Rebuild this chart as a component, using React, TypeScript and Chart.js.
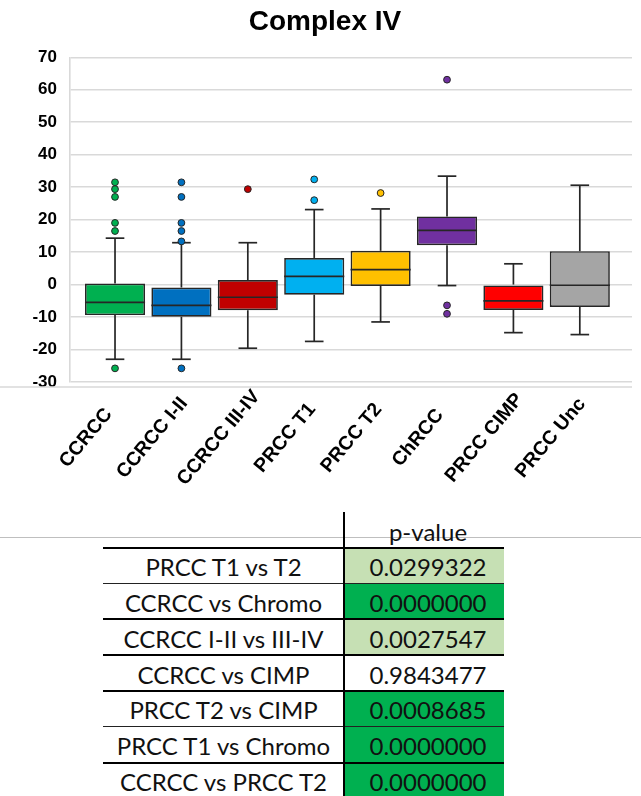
import React, { useEffect, useRef } from "react";
import { Chart, registerables } from "chart.js";

Chart.register(...registerables);

// ---------- data ----------
const TITLE = "Complex IV";
const CATEGORIES = ["CCRCC", "CCRCC I-II", "CCRCC III-IV", "PRCC T1", "PRCC T2", "ChRCC", "PRCC CIMP", "PRCC Unc"];
const COLORS = ["#00b050", "#0070c0", "#c00000", "#00b0f0", "#ffc000", "#7030a0", "#ff0000", "#a5a5a5"];
const Q1 = [-9.4, -9.9, -7.9, -3.1, -0.4, 12.1, -7.8, -6.9];
const Q3 = [0.3, -0.9, 1.4, 8.2, 10.4, 21.0, 0.0, 10.3];
const MEDIAN = [-5.5, -6.4, -3.9, 2.5, 4.6, 16.7, -5.0, -0.2];
const WHISKER_LOW = [-23.0, -23.0, -19.6, -17.5, -11.5, -0.3, -14.8, -15.4];
const WHISKER_HIGH = [14.3, 12.9, 12.9, 23.1, 23.3, 33.4, 6.4, 30.6];
const OUTLIERS: number[][] = [
  [31.5, 29.4, 27.0, 19.0, 16.5, -25.8],
  [31.5, 27.0, 19.0, 16.5, 13.3, -25.8],
  [29.4],
  [32.4, 26.0],
  [28.2],
  [63.1, -6.4, -9.0],
  [],
  [],
];
const Y_MIN = -30;
const Y_MAX = 70;
const Y_STEP = 10;

const COMPARISONS = [
  "PRCC T1 vs T2",
  "CCRCC vs Chromo",
  "CCRCC I-II vs III-IV",
  "CCRCC vs CIMP",
  "PRCC T2 vs CIMP",
  "PRCC T1 vs Chromo",
  "CCRCC vs PRCC T2",
];
const P_VALUES = ["0.0299322", "0.0000000", "0.0027547", "0.9843477", "0.0008685", "0.0000000", "0.0000000"];
const P_HEADER = "p-value";

// ---------- styles ----------
const FONT = '"Liberation Sans", Arial, Helvetica, sans-serif';
const TABLE_FONT = 'Lato, "Open Sans", sans-serif';
const LINE_DARK = "#262626";
const GRID = "#d9d9d9";
const LABEL_ANGLE = 50; // degrees
const LABEL_FONT_SIZE = 19.5;

const boxPlugin = {
  id: "boxWhiskers",
  afterDatasetDraw(chart: any, args: any) {
    if (args.index !== 0) return;
    const { ctx } = chart;
    const x = chart.scales.x;
    const y = chart.scales.y;
    const meta = chart.getDatasetMeta(0);
    ctx.save();
    ctx.strokeStyle = LINE_DARK;
    ctx.lineWidth = 1.7;
    const seg = (x1: number, y1: number, x2: number, y2: number) => {
      ctx.beginPath();
      ctx.moveTo(x1, y1);
      ctx.lineTo(x2, y2);
      ctx.stroke();
    };
    CATEGORIES.forEach((_, i) => {
      const bar = meta.data[i];
      const props = bar.getProps(["x", "width"], true);
      const cx = x.getPixelForValue(i);
      const half = props.width / 2;
      const capHalf = half * 0.31;
      const yq1 = y.getPixelForValue(Q1[i]);
      const yq3 = y.getPixelForValue(Q3[i]);
      const ylo = y.getPixelForValue(WHISKER_LOW[i]);
      const yhi = y.getPixelForValue(WHISKER_HIGH[i]);
      const ymed = y.getPixelForValue(MEDIAN[i]);
      seg(cx, yq3, cx, yhi);
      seg(cx - capHalf, yhi, cx + capHalf, yhi);
      seg(cx, yq1, cx, ylo);
      seg(cx - capHalf, ylo, cx + capHalf, ylo);
      seg(cx - half, ymed, cx + half, ymed);
    });
    ctx.restore();
  },
  afterDraw(chart: any) {
    const { ctx, chartArea } = chart;
    const x = chart.scales.x;
    const yb = chartArea.bottom + 5;
    ctx.save();
    ctx.fillStyle = "#ffffff";
    ctx.fillRect(0, yb, chartArea.left - 2, 5);
    ctx.strokeStyle = GRID;
    ctx.lineWidth = 1.5;
    ctx.beginPath();
    ctx.moveTo(0, yb);
    ctx.lineTo(chartArea.right, yb);
    ctx.stroke();
    // category labels, centred (Excel style) and rotated
    ctx.fillStyle = "#000";
    ctx.font = `bold ${LABEL_FONT_SIZE}px ${FONT}`;
    ctx.textAlign = "center";
    ctx.textBaseline = "middle";
    CATEGORIES.forEach((label, i) => {
      const tx = x.getPixelForValue(i) - 29;
      const ty = chartArea.bottom + 56;
      ctx.save();
      ctx.translate(tx, ty);
      ctx.rotate((-LABEL_ANGLE * Math.PI) / 180);
      ctx.fillText(label, 0, 0);
      ctx.restore();
    });
    ctx.restore();
  },
};

function BoxChart() {
  const ref = useRef<HTMLCanvasElement>(null);
  useEffect(() => {
    if (!ref.current) return;
    const outlierPts: { x: number; y: number }[] = [];
    const outlierColors: string[] = [];
    OUTLIERS.forEach((arr, i) =>
      arr.forEach((v) => {
        outlierPts.push({ x: i, y: v });
        outlierColors.push(COLORS[i]);
      })
    );
    const chart = new Chart(ref.current, {
      type: "bar",
      data: {
        datasets: [
          {
            type: "bar",
            order: 2,
            data: CATEGORIES.map((_, i) => ({ x: i, y: [Q1[i], Q3[i]] })) as any,
            backgroundColor: COLORS,
            borderColor: LINE_DARK,
            borderWidth: 1.7,
            borderSkipped: false,
            categoryPercentage: 1,
            barPercentage: 0.905,
          } as any,
          {
            type: "scatter",
            order: 1,
            data: outlierPts,
            pointRadius: 3.4,
            pointBackgroundColor: outlierColors,
            pointBorderColor: LINE_DARK,
            pointBorderWidth: 1,
          } as any,
        ],
      },
      options: {
        animation: false,
        responsive: false,
        devicePixelRatio: 1,
        layout: { padding: { left: 18, right: 9, top: 0, bottom: 0 } },
        plugins: {
          legend: { display: false },
          tooltip: { enabled: false },
          title: {
            display: true,
            text: TITLE,
            color: "#000",
            font: { family: FONT, size: 28, weight: "bold" },
            padding: { top: 5, bottom: 18.7 },
          },
        },
        scales: {
          x: {
            type: "linear",
            offset: false,
            min: -0.678,
            max: 7.786,
            grid: { display: false, drawTicks: false, offset: false },
            border: { display: false },
            afterFit: (s: any) => {
              s.height = 118;
            },
            ticks: {
              display: false,
              stepSize: 1,
              includeBounds: false,
              autoSkip: false,
            },
          },
          y: {
            min: Y_MIN,
            max: Y_MAX,
            afterFit: (s: any) => {
              s.width = 52;
            },
            grid: { color: GRID, lineWidth: 1.6, drawTicks: false },
            border: { display: true, color: GRID, width: 1.6 },
            ticks: {
              stepSize: Y_STEP,
              padding: 13,
              color: "#000",
              font: { family: FONT, size: 17, weight: "bold" },
            },
          },
        },
      },
      plugins: [boxPlugin],
    } as any);
    return () => chart.destroy();
  }, []);
  return (
    <canvas
      ref={ref}
      width={641}
      height={500}
      style={{ position: "absolute", left: 0, top: 0, width: 641, height: 500 }}
    />
  );
}

function PTable() {
  const top0 = 547.7;
  const rowH = 35.83;
  const left = 103;
  const mid = 344;
  const right = 504;
  const lineW = [2, 1, 2, 2, 2, 1, 2];
  const cellBg = (p: string) => {
    const v = parseFloat(p);
    if (v < 0.001) return "#00b050";
    if (v < 0.05) return "#c6e0b4";
    return "#ffffff";
  };
  const txt: React.CSSProperties = {
    position: "absolute",
    display: "flex",
    alignItems: "center",
    justifyContent: "center",
    fontFamily: TABLE_FONT,
    fontSize: 24,
    color: "#111",
    whiteSpace: "nowrap",
  };
  return (
    <>
      <div style={{ position: "absolute", left: 0, top: 537, width: 641, height: 1, background: "#bfbfbf" }} />
      {P_VALUES.map((p, i) => (
        <div
          key={"bg" + i}
          style={{ position: "absolute", left: mid, top: top0 + i * rowH, width: right - mid, height: rowH, background: cellBg(p) }}
        />
      ))}
      {COMPARISONS.map((_, i) => (
        <div
          key={"ln" + i}
          style={{
            position: "absolute",
            left,
            top: top0 + i * rowH - lineW[i] / 2,
            width: right - left,
            height: lineW[i],
            background: lineW[i] > 1 ? "#000" : "#222",
          }}
        />
      ))}
      <div style={{ position: "absolute", left: mid - 1, top: 512, width: 2, height: 290, background: "#000" }} />
      <div style={{ ...txt, left: mid + 4, top: 516, width: right - mid, height: 30 }}>{P_HEADER}</div>
      {COMPARISONS.map((c, i) => (
        <div key={"c" + i} style={{ ...txt, left, top: top0 + i * rowH + 1, width: mid - left, height: rowH }}>
          {c}
        </div>
      ))}
      {P_VALUES.map((p, i) => (
        <div key={"p" + i} style={{ ...txt, left: mid + 4, top: top0 + i * rowH + 1, width: right - mid, height: rowH }}>
          {p}
        </div>
      ))}
    </>
  );
}

export default function App() {
  return (
    <div
      style={{
        position: "absolute",
        left: 0,
        top: 0,
        width: 641,
        height: 796,
        overflow: "hidden",
        background: "#fff",
      }}
    >
      <BoxChart />
      <PTable />
    </div>
  );
}
